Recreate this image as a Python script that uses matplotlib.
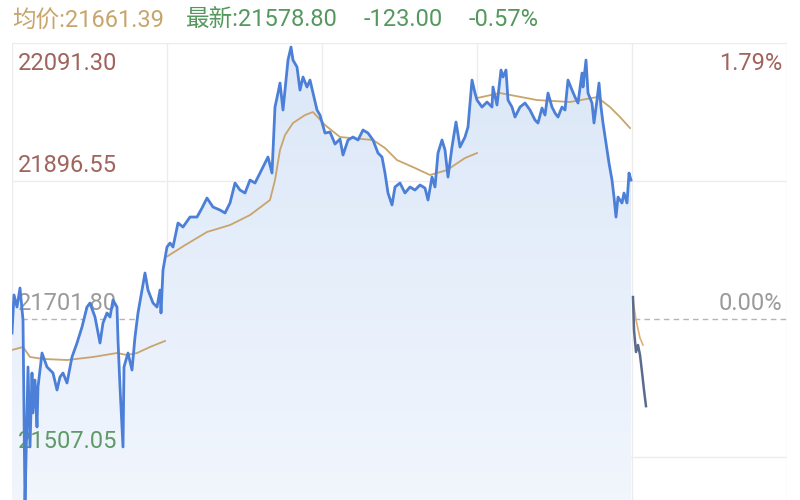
import numpy as np
import matplotlib
matplotlib.use("Agg")
import matplotlib.pyplot as plt
from matplotlib.colors import LinearSegmentedColormap

# previous close and axis range (+/- 1.79%)
prev_close = 21701.80
y_top = 22091.30
y_bottom = 21312.30
level_labels = [22091.30, 21896.55, 21701.80, 21507.05]
pct_labels = ["1.79%", "0.00%"]
n_slots = 775          # full trading window, 5 blocks of 155
block = 155

# main price trace (slot index, price)
t_main = [
    0, 2, 5, 8, 10, 11, 13, 16, 18, 20,
    21, 23, 25, 26, 30, 35, 41, 45, 48, 51,
    55, 60, 65, 70, 75, 78, 83, 88, 91, 95,
    98, 101, 105, 106, 108, 111, 112, 116, 120, 123,
    126, 130, 133, 136, 141, 145, 148, 149, 151, 155,
    158, 161, 166, 171, 178, 185, 190, 195, 201, 208,
    213, 218, 223, 228, 233, 238, 243, 248, 253, 256,
    260, 263, 266, 268, 271, 274, 276, 279, 281, 285,
    288, 291, 295, 298, 301, 305, 308, 313, 318, 323,
    328, 331, 336, 341, 346, 351, 356, 361, 366, 370,
    373, 376, 380, 383, 388, 393, 398, 403, 408, 413,
    416, 420, 423, 426, 430, 433, 436, 440, 444, 448,
    453, 456, 460, 463, 465, 470, 475, 480, 481, 485,
    489, 491, 494, 496, 500, 503, 508, 513, 518, 523,
    526, 530, 533, 536, 540, 543, 546, 550, 553, 556,
    560, 563, 566, 570, 571, 574, 576, 580, 582, 585,
    587, 589, 591, 595, 597, 600, 602, 604, 606, 610,
    612, 615, 617, 619,
]
price_main = [
    21682.0, 21735.7, 21718.7, 21745.5, 21714.5, 21700.4, 21439.4, 21634.1, 21521.2, 21625.6,
    21569.2, 21615.7, 21549.4, 21605.9, 21653.8, 21634.1, 21625.6, 21601.6, 21620.0, 21625.6,
    21611.5, 21648.2, 21667.9, 21690.5, 21718.7, 21724.4, 21704.6, 21667.9, 21696.2, 21710.3,
    21704.6, 21728.6, 21718.7, 21672.2, 21605.9, 21521.2, 21634.1, 21653.8, 21629.8, 21676.4,
    21710.3, 21742.7, 21766.7, 21742.7, 21724.4, 21718.7, 21742.7, 21710.3, 21770.9, 21803.4,
    21809.0, 21803.4, 21837.3, 21831.6, 21845.7, 21845.7, 21858.4, 21872.5, 21859.8, 21855.6,
    21851.4, 21865.5, 21893.7, 21883.8, 21879.6, 21897.9, 21893.7, 21907.8, 21921.9, 21930.4,
    21907.8, 22000.9, 22020.7, 22034.8, 21996.7, 22039.0, 22067.2, 22085.6, 22067.2, 22057.4,
    22024.9, 22043.3, 22029.2, 22039.0, 22020.7, 21996.7, 21989.6, 21964.2, 21965.7, 21948.7,
    21955.8, 21933.2, 21954.4, 21958.6, 21954.4, 21968.5, 21964.2, 21954.4, 21936.0, 21930.4,
    21907.8, 21879.6, 21862.7, 21888.1, 21893.7, 21879.6, 21888.1, 21883.8, 21890.9, 21886.6,
    21869.7, 21902.2, 21888.1, 21936.0, 21954.4, 21940.3, 21902.2, 21944.5, 21979.8, 21944.5,
    21958.6, 21972.7, 22039.0, 22020.7, 22010.8, 22000.9, 22008.0, 22000.9, 22029.2, 22003.8,
    22053.1, 22043.3, 22053.1, 22010.8, 22000.9, 21986.8, 22000.9, 22006.6, 21996.7, 21982.6,
    21978.4, 21999.5, 21989.6, 22020.7, 22000.9, 21992.5, 21986.8, 22000.9, 21996.7, 22039.0,
    22024.9, 22015.0, 22006.6, 22048.9, 22029.2, 22067.2, 22020.7, 22006.6, 21978.4, 22010.8,
    22034.8, 22000.9, 21978.4, 21940.3, 21921.9, 21897.9, 21873.9, 21845.7, 21873.9, 21865.5,
    21879.6, 21865.5, 21907.8, 21897.9,
]

# average price line, drawn in three pieces
avg_a_t = [0, 11, 18, 31, 55, 81, 105, 115, 125, 138, 153]
avg_a = [21658.1, 21662.3, 21648.2, 21645.4, 21643.9, 21648.2, 21653.8, 21651.0,
         21653.8, 21662.3, 21670.8]
avg_b_t = [155, 173, 195, 218, 238, 258, 263, 268, 273, 281, 293, 301, 313, 328,
           361, 373, 385, 403, 418, 435, 453, 465]
avg_b = [21790.0, 21806.0, 21824.6, 21834.4, 21848.5, 21869.7, 21897.9, 21940.3,
         21961.4, 21978.4, 21989.6, 21993.9, 21975.5, 21958.6, 21954.4, 21943.1,
         21926.1, 21914.9, 21905.0, 21912.0, 21929.0, 21936.0]
avg_c_t = [465, 488, 525, 558, 585, 598, 608, 618]
avg_c = [22013.6, 22020.7, 22010.8, 22008.0, 22015.0, 22000.9, 21986.8, 21971.3]

# today's short trace at the end
t_tail = [621, 622, 624, 626, 628, 630, 632, 634]
price_tail = [21732.8, 21686.3, 21655.2, 21665.1, 21651.0, 21627.0, 21601.6, 21578.8]
avg_tail_t = [621, 624, 628, 631]
avg_tail = [21728.6, 21700.4, 21675.0, 21665.1]

assert len(t_main) == len(price_main)

FONT = ["Roboto", "Noto Sans CJK SC", "DejaVu Sans"]
plt.rcParams["font.family"] = FONT

fig = plt.figure(figsize=(8, 5), dpi=100)
ax = fig.add_axes([12 / 800, -0.19, 775 / 800, 1.104])
for s in ax.spines.values():
    s.set_visible(False)
ax.set_xticks([])
ax.set_yticks([])

# grid
for x in np.arange(0, n_slots + 1, block):
    ax.axvline(x, color="#ececec", lw=1, zorder=0)
for v in [22091.30, 21896.55, 21507.05]:
    ax.axhline(v, color="#ececec", lw=1, zorder=0)
ax.axhline(prev_close, color="#b5b5b5", lw=1, ls=(0, (4, 3)), zorder=1)

# gradient fill under the price line
poly = ax.fill_between(t_main, price_main, y_bottom, color="none", lw=0)
cmap = LinearSegmentedColormap.from_list("fill", ["#f6f9fe", "#dbe7f8"])
grad = np.linspace(0, 1, 256).reshape(-1, 1)
im = ax.imshow(grad, extent=[0, t_main[-1], y_bottom, y_top], origin="lower",
               aspect="auto", cmap=cmap, zorder=1)
im.set_clip_path(poly.get_paths()[0], transform=ax.transData)

# lines
ax.plot(avg_a_t, avg_a, color="#c9a46c", lw=1.3, zorder=3)
ax.plot(avg_b_t, avg_b, color="#c9a46c", lw=1.3, zorder=3)
ax.plot(avg_c_t, avg_c, color="#c9a46c", lw=1.3, zorder=3)
ax.plot(t_main, price_main, color="#4b7fd8", lw=2.0, zorder=4)
ax.plot(avg_tail_t, avg_tail, color="#e0b070", lw=1.2, zorder=3)
ax.plot(t_tail, price_tail, color="#5a6c8e", lw=1.8, zorder=4)

ax.set_xlim(0, n_slots)
ax.set_ylim(y_bottom, y_top)

# price labels on the left, percent labels on the right
left_colors = ["#a0645c", "#a0645c", "#9a9a9a", "#5f9a68"]
left_offsets = [-21, 16, 16, 15]
for v, c, dy in zip(level_labels, left_colors, left_offsets):
    ax.annotate(f"{v:.2f}", xy=(0, v), xycoords=("axes fraction", "data"),
                xytext=(6, dy), textcoords="offset pixels", ha="left", va="center",
                fontsize=17, color=c, zorder=2)
for lab, v, c, dy in zip(pct_labels, [y_top, prev_close], ["#a0645c", "#9a9a9a"], [-21, 16]):
    ax.annotate(lab, xy=(1, v), xycoords=("axes fraction", "data"),
                xytext=(-5, dy), textcoords="offset pixels", ha="right", va="center",
                fontsize=17, color=c, zorder=2)

# header
fig.text(12 / 800, 1 - 20 / 500, "均价:21661.39", color="#c8a56c", fontsize=17,
         va="center", ha="left")
fig.text(186 / 800, 1 - 20 / 500, "最新:21578.80", color="#55985e", fontsize=17,
         va="center", ha="left")
fig.text(364 / 800, 1 - 20 / 500, "-123.00", color="#55985e", fontsize=17,
         va="center", ha="left")
fig.text(469 / 800, 1 - 20 / 500, "-0.57%", color="#55985e", fontsize=17,
         va="center", ha="left")

fig.savefig("out.png", dpi=100)
